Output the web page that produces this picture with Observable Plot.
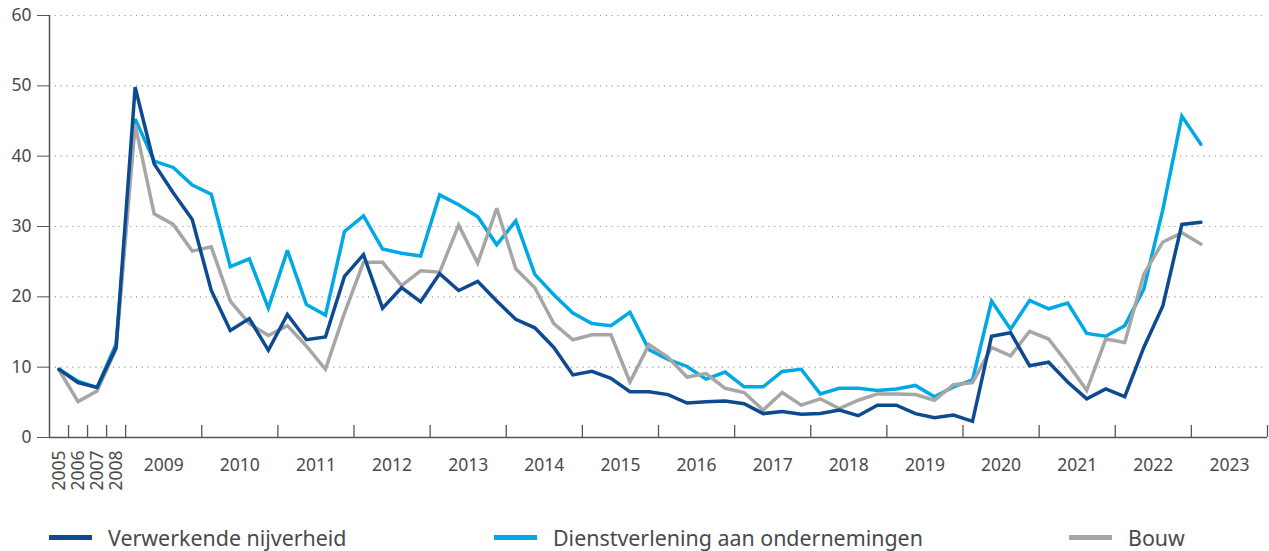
<!DOCTYPE html>
<html><head><meta charset="utf-8">
<script src="https://cdn.jsdelivr.net/npm/d3@7"></script>
<script src="https://cdn.jsdelivr.net/npm/@observablehq/plot@0.6"></script>
<style>
body{margin:0;background:#fff;font-family:"Noto Sans",sans-serif;}
#chart{position:relative;width:1269px;height:551px;overflow:hidden;}
#chart svg{position:absolute;left:0;top:0;}
.item{position:absolute;top:522px;height:30px;display:flex;align-items:center;font-size:21.4px;color:#4a4a4a;white-space:nowrap;}
.sw{width:43px;height:5px;margin-right:16px;}
</style></head><body><div id="chart"></div>
<script>
// Categories
const annualYears = ["2005","2006","2007","2008"];
const quarterYears = ["2009","2010","2011","2012","2013","2014","2015","2016","2017","2018","2019","2020","2021","2022","2023"];
const quarterNames = ["K1","K2","K3","K4"];
const lastPeriod = "2023K1";
const yTicks = [0,10,20,30,40,50,60];

// Series values (annual 2005-2008, then quarterly 2009K1-2023K1)
const verwerkende = [9.7,7.8,7.1,12.8,
  49.8,38.9,34.8,31.0, 20.9,15.2,16.9,12.4, 17.5,13.9,14.3,22.9, 26.0,18.4,21.3,19.3,
  23.3,20.9,22.2,19.4, 16.8,15.6,12.8,8.9, 9.4,8.4,6.5,6.5, 6.1,4.9,5.1,5.2,
  4.8,3.4,3.7,3.3, 3.4,3.9,3.1,4.6, 4.6,3.4,2.8,3.2, 2.3,14.4,14.9,10.2,
  10.7,7.9,5.5,6.9, 5.8,12.8,18.7,30.3, 30.6];
const dienstverlening = [9.7,8.0,7.1,13.3,
  45.3,39.3,38.4,35.9, 34.6,24.3,25.4,18.4, 26.6,18.9,17.4,29.3, 31.5,26.8,26.2,25.8,
  34.5,33.1,31.4,27.4, 30.8,23.2,20.3,17.7, 16.2,15.9,17.8,12.5, 11.1,10.1,8.3,9.3,
  7.2,7.2,9.4,9.7, 6.2,7.0,7.0,6.7, 6.9,7.4,5.8,7.2, 8.2,19.4,15.4,19.5,
  18.3,19.1,14.8,14.4, 15.9,21.1,32.4,45.7, 41.7];
const bouw = [9.6,5.1,6.6,12.6,
  44.5,31.8,30.3,26.5, 27.1,19.4,16.2,14.5, 15.9,13.0,9.7,17.7, 24.9,24.9,21.6,23.7,
  23.5,30.2,24.8,32.6, 24.0,21.3,16.2,13.9, 14.6,14.6,7.9,13.2, 11.4,8.6,9.1,7.0,
  6.4,3.9,6.4,4.6, 5.5,4.1,5.3,6.2, 6.2,6.1,5.3,7.5, 7.8,12.8,11.6,15.1,
  14.0,10.5,6.7,14.0, 13.5,23.2,27.8,29.1, 27.5];

const seriesNames = ["Verwerkende nijverheid","Dienstverlening aan ondernemingen","Bouw"];
const seriesColors = ["#0d4a8f","#00a8e6","#a6a6a6"];

// Build period list
const periods = [...annualYears];
for (const y of quarterYears) for (const q of quarterNames) {
  if (periods.includes(lastPeriod)) break;
  periods.push(y + q);
}
const nSlots = annualYears.length + quarterYears.length * quarterNames.length;
const xBoundaries = [
  ...annualYears.map((_, i) => i + 1),
  ...quarterYears.map((_, k) => annualYears.length + quarterNames.length * (k + 1))
];
const yearLabelPos = quarterYears.map((y, k) => ({label: y, x: annualYears.length + quarterNames.length * k + quarterNames.length / 2}));
const annualLabelPos = annualYears.map((y, i) => ({label: y, x: i + 0.5}));

const allSeries = [verwerkende, dienstverlening, bouw];
const table = allSeries.flatMap((vals, s) => vals.map((v, i) => ({period: periods[i], x: i + 0.5, value: v, series: seriesNames[s]})));

const drawOrder = [1, 2, 0];
const textColor = "#4a4a4a";
const axisColor = "#555";

const chart = Plot.plot({
  width: 1269, height: 500,
  marginLeft: 49, marginRight: 2, marginTop: 15, marginBottom: 63,
  x: {domain: [0, nSlots]},
  y: {domain: [0, 60]},
  style: {fontFamily: "Noto Sans", fontSize: "17.5px", color: textColor, background: "white"},
  marks: [
    Plot.gridY({ticks: yTicks.filter(v => v > 0), stroke: "#9a9a9a", strokeOpacity: 1, strokeDasharray: "1.2,4.6", strokeWidth: 1.2}),
    Plot.axisY({ticks: yTicks, tickSize: 12, tickPadding: 6, label: null, stroke: axisColor, fill: textColor, fontSize: 17.5}),
    Plot.ruleX([0], {stroke: axisColor, strokeWidth: 1.5}),
    Plot.ruleY([0], {stroke: axisColor, strokeWidth: 1.5}),
    Plot.axisX({ticks: xBoundaries, tickSize: 12, dy: -12, tickFormat: () => "", label: null, stroke: axisColor, strokeWidth: 1.3}),
    ...drawOrder.map(s => Plot.lineY(table.filter(d => d.series === seriesNames[s]), {
      x: "x", y: "value", stroke: seriesColors[s], strokeWidth: 3.5, strokeLinejoin: "miter", strokeMiterlimit: 3
    })),
    Plot.text(annualLabelPos, {x: "x", y: 0, text: "label", dy: 13, rotate: -90, textAnchor: "end", fill: textColor, fontSize: 17.5}),
    Plot.text(yearLabelPos, {x: "x", y: 0, text: "label", dy: 28, fill: textColor, fontSize: 17.5})
  ]
});
const root = document.getElementById("chart");
root.appendChild(chart);

const legendLeft = [49, 494, 1069];
seriesNames.forEach((name, s) => {
  const item = document.createElement("div");
  item.className = "item";
  item.style.left = legendLeft[s] + "px";
  const sw = document.createElement("span");
  sw.className = "sw";
  sw.style.background = seriesColors[s];
  const tx = document.createElement("span");
  tx.textContent = name;
  item.appendChild(sw); item.appendChild(tx);
  root.appendChild(item);
});
</script>
</body></html>
